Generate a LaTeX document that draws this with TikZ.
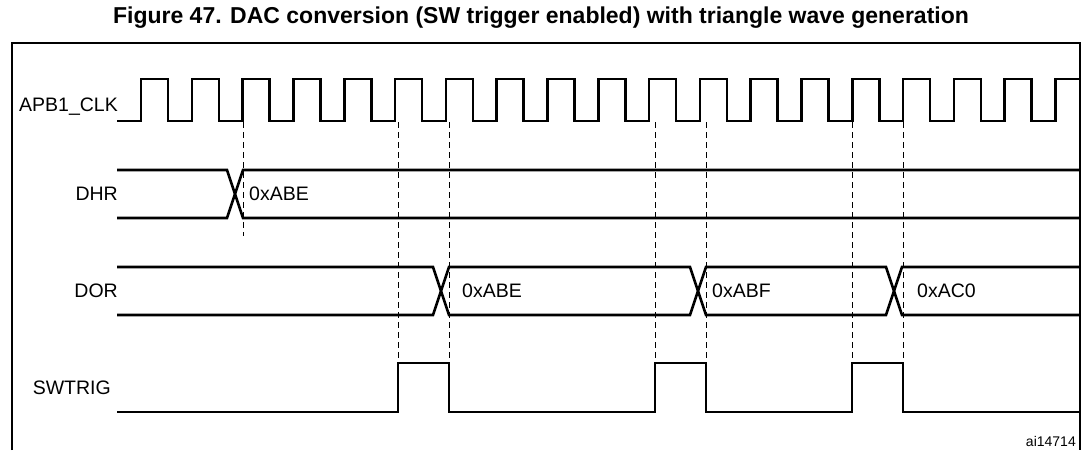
\documentclass[tikz,border=0pt]{standalone}
\usepackage{fontspec}
\setmainfont{Liberation Sans}
\begin{document}
\begin{tikzpicture}[x=1pt,y=-1pt,
  sig/.style={line width=2.6pt,line join=miter},
  dsh/.style={line width=1pt,dash pattern=on 6pt off 4pt},
  lbl/.style={font=\fontsize{19.5}{21}\selectfont,inner sep=0pt},
  val/.style={font=\fontsize{19.5}{21}\selectfont,inner sep=0pt,anchor=west}]
\useasboundingbox (0,0) rectangle (1081,450);
\node[font=\bfseries\fontsize{23}{25}\selectfont] (title) at (541,18) {Figure 47. DAC conversion (SW trigger enabled) with triangle wave generation};
\draw[line width=1.2pt] (12,450) -- (12,43) -- (1080,43) -- (1080,450);
% clock
\def\per{50.8}
\draw[sig] (117,121) -- (141,121)
  \foreach \k in {0,...,17}{ -- ({141+\k*\per},79) -- ({141+\k*\per+27},79) -- ({141+\k*\per+27},121) -- ({141+(\k+1)*\per},121)}
  -- ({141+18*\per},79) -- (1081,79);
\node[lbl,anchor=east] (clk) at (118,107) {APB1\_CLK};
% DHR
\node[lbl,anchor=east] (dhr) at (118,194) {DHR};
\draw[sig] (117,170) -- (227,170) -- (243,218) -- (1081,218);
\draw[sig] (117,218) -- (227,218) -- (243,170) -- (1081,170);
\node[val] (v1) at (249,194) {0xABE};
% DOR
\node[lbl,anchor=east] (dor) at (118,291) {DOR};
\draw[sig] (117,267) -- (433,267) -- (449,315) -- (690,315) -- (706,267) -- (886,267) -- (902,315) -- (1081,315);
\draw[sig] (117,315) -- (433,315) -- (449,267) -- (690,267) -- (706,315) -- (886,315) -- (902,267) -- (1081,267);
\node[val] (v2) at (462,291) {0xABE};
\node[val] (v3) at (712,291) {0xABF};
\node[val] (v4) at (917,291) {0xAC0};
% SWTRIG
\node[lbl,anchor=east] (sw) at (111,388) {SWTRIG};
\draw[sig] (117,412) -- (398,412) -- (398,363) -- (449,363) -- (449,412) -- (655,412) -- (655,363) -- (706,363) -- (706,412) -- (852,412) -- (852,363) -- (903,363) -- (903,412) -- (1081,412);
% dashed
\draw[dsh] (243,122) -- (243,236);
\foreach \x in {398,449,655,706,852,903}{\draw[dsh] (\x,122) -- (\x,412);}
\node[font=\fontsize{14}{15}\selectfont,anchor=east,inner sep=0pt] (id) at (1076,441) {ai14714};
\end{tikzpicture}
\end{document}
